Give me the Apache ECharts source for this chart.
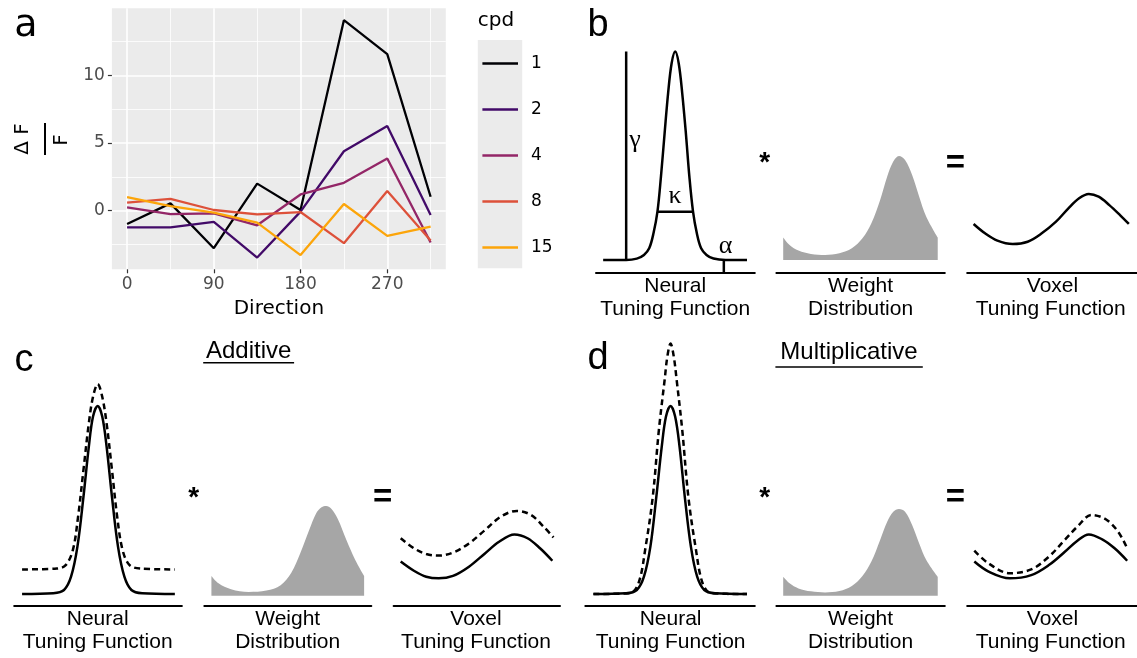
<!DOCTYPE html>
<html>
<head>
<meta charset="utf-8">
<script src="https://cdn.jsdelivr.net/npm/echarts@6.0.0/dist/echarts.min.js"></script>
<style>
html, body { margin: 0; padding: 0; background: #fff; }
#main { width: 1137px; height: 658px; }
</style>
</head>
<body>
<div id="main"></div>
<script>
// panel a: dF/F by direction for each spatial frequency
var directions = [0, 45, 90, 135, 180, 225, 270, 315];
var cpd1 = [-0.98, 0.54, -2.77, 2.0, 0.05, 14.07, 11.57, 1.03];
var cpd2 = [-1.23, -1.23, -0.83, -3.46, -0.07, 4.39, 6.25, -0.32];
var cpd4 = [0.25, -0.25, -0.2, -1.08, 1.2, 2.06, 3.85, -2.35];
var cpd8 = [0.59, 0.88, 0.05, -0.27, -0.1, -2.4, 1.45, -2.2];
var cpd15 = [1.0, 0.34, -0.15, -0.88, -3.28, 0.49, -1.86, -1.18];
var cpdNames = ['1', '2', '4', '8', '15'];
var cpdColors = ['#000004', '#420a68', '#932667', '#dd513a', '#fca50a'];
var xMajor = [0, 90, 180, 270];
var xMinor = [45, 135, 225, 315];
var yMajor = [0, 5, 10];
var yMinor = [-2.5, 2.5, 7.5, 12.5];

// schematics: [direction %, response]
var bNeural = [[4.5, 5.6], [19, 5.6], [25.7, 6.2], [30.2, 7.8], [33.5, 10.7], [36.2, 17.3], [38.7, 26.8], [40.9, 42.2], [43.2, 61.2], [45.4, 78.8], [47.6, 91.9], [49.9, 97.1], [52.1, 91.9], [54.3, 78.8], [56.6, 61.2], [58.8, 42.2], [61.1, 26.8], [63.5, 17.3], [66.2, 10.7], [69.6, 7.8], [74, 6.2], [81.6, 5.6], [95.1, 5.6]];
var bGamma = [[19, 5.6], [19, 97.1]];
var bKappa = [[38.7, 26.8], [61.1, 26.8]];
var bAlpha = [[80.5, 0], [80.5, 5.6]];
var bWeight = [[4.04, 15.5], [7.83, 12.2], [13.1, 9.7], [20.5, 8.2], [28.9, 7.8], [37.4, 8.5], [44.8, 10.7], [51.1, 15.1], [56.4, 21.7], [61.6, 31.9], [65.8, 42.2], [69.4, 48.8], [72.8, 51.3], [76.4, 49.5], [80.6, 42.9], [84.8, 33.4], [89, 24.6], [95.8, 15.5]];
var bWeightBase = 5.58;
var bVoxel = [[3.77, 21.4], [10.5, 17.3], [17.8, 14.1], [26.8, 12.6], [35.6, 13.6], [43.9, 17.3], [52.3, 22.4], [59.6, 28.3], [65.9, 32.7], [71.6, 34.6], [77.4, 33.4], [83.7, 29.7], [90, 25.3], [95.2, 21.4]];

var cNeural = [[4.7, 4.4], [23.3, 4.7], [29.7, 5.9], [33.9, 10.8], [37.7, 21.9], [41.3, 40.3], [44.5, 58.8], [47, 69.9], [49.8, 73.8], [52.5, 69.9], [55.1, 58.8], [58.3, 40.3], [61.9, 21.9], [65.7, 10.8], [69.9, 5.9], [76.3, 4.7], [95.8, 4.4]];
var cNeuralAdd = [[4.7, 13.5], [25.4, 13.8], [30.7, 15.1], [35, 20.7], [38.1, 33], [41.3, 50.2], [44.5, 67.4], [47, 77.2], [49.8, 81.9], [52.5, 77.2], [55.1, 67.4], [58.3, 50.2], [61.4, 33], [64.6, 20.7], [68.8, 15.1], [75.2, 13.8], [95.8, 13.5]];
var cWeight = [[4.26, 11.1], [8.5, 8.4], [16, 6.2], [26.6, 5.2], [37.2, 5.7], [45.7, 7.7], [52.1, 12.3], [57.4, 19.4], [62.8, 28], [67, 34.2], [70.2, 36.4], [73, 36.9], [75.9, 36], [79.8, 32.3], [85.1, 24.4], [90.4, 17], [95.7, 11.1]];
var cWeightBase = 3.81;
var cVoxel = [[4.27, 16.4], [12.2, 13], [19.6, 10.8], [27.1, 10.2], [35.7, 11.1], [45.3, 14.5], [54.9, 19.4], [63.4, 23.7], [72.6, 26.4], [80.5, 25], [88, 21.3], [95.4, 16.7]];
var cVoxelAdd = [[4.27, 25], [12.2, 21.3], [19.6, 19.2], [27.1, 18.6], [35.7, 19.7], [45.3, 23.1], [54.9, 28], [64.5, 33], [74.1, 35.1], [82.6, 33.6], [90.1, 29.3], [96.1, 25.3]];

var dNeural = [[4.8, 4.4], [24.1, 4.7], [30.4, 5.9], [34.6, 10.8], [38.4, 21.9], [41.9, 40.3], [45.1, 58.8], [47.6, 69.9], [50.3, 73.8], [53, 69.9], [55.6, 58.8], [58.7, 40.3], [62.3, 21.9], [66, 10.8], [70.2, 5.9], [76.5, 4.7], [95.4, 4.4]];
var dNeuralMul = [[4.8, 4.4], [26.2, 4.7], [31.4, 8.4], [35.6, 21.9], [39.8, 40.3], [43.4, 64.9], [46.8, 83.4], [48.4, 92], [50.3, 96.9], [52.2, 92], [53.9, 83.4], [57.2, 64.9], [60.8, 40.3], [65, 21.9], [69.2, 8.4], [74.4, 4.7], [95.4, 4.4]];
var dWeight = [[4.04, 10.8], [7.83, 8.4], [13.1, 6.5], [20.5, 5.4], [28.9, 5.0], [37.4, 5.5], [44.8, 7.4], [51.1, 11.1], [56.4, 16.4], [61.6, 24.4], [65.8, 31.1], [69.4, 34.8], [72.8, 35.8], [76.4, 34.8], [80.6, 29.9], [84.8, 23.1], [89, 17], [95.8, 10.8]];
var dWeightBase = 3.81;
var dVoxel = [[4.19, 16.4], [12.6, 12.7], [25.1, 10.2], [37.7, 11.4], [48.1, 15.1], [57.5, 20], [64.9, 24.1], [71.6, 26.4], [79.5, 24.6], [86.8, 21.3], [94.2, 16.7]];
var dVoxelMul = [[4.19, 20.4], [12.6, 15.7], [25.1, 12.1], [37.7, 13.5], [48.1, 18.2], [57.5, 24.4], [64.9, 29.3], [73.2, 33.6], [81.6, 32], [88.9, 27.4], [94.2, 21.3]];

var chart = echarts.init(document.getElementById('main'));
var sans = 'Liberation Sans';
var gg = 'DejaVu Sans';

var grids = [{ left: 111.9, top: 8.3, width: 333.9, height: 261, show: true, backgroundColor: '#ebebeb', borderWidth: 0 }];
var xAxes = [
  { gridIndex: 0, type: 'value', min: -15.75, max: 330.75, position: 'bottom',
    axisLine: { show: false, onZero: false },
    axisTick: { show: true, length: 4, customValues: xMajor, lineStyle: { color: '#333', width: 1.2 } },
    axisLabel: { customValues: xMajor, color: '#4d4d4d', fontSize: 17, fontFamily: gg, margin: 7 },
    splitLine: { show: true, lineStyle: { color: '#fff', width: 1.6 } }, z: 2 },
  { gridIndex: 0, type: 'value', min: -15.75, max: 330.75, position: 'bottom',
    axisLine: { show: false, onZero: false }, axisTick: { show: false, customValues: xMinor },
    axisLabel: { show: false }, splitLine: { show: true, lineStyle: { color: '#fff', width: 0.8 } }, z: 1 }
];
var yAxes = [
  { gridIndex: 0, type: 'value', min: -4.33, max: 14.95, position: 'left',
    axisLine: { show: false, onZero: false },
    axisTick: { show: true, length: 4, customValues: yMajor, lineStyle: { color: '#333', width: 1.2 } },
    axisLabel: { customValues: yMajor, color: '#4d4d4d', fontSize: 17, fontFamily: gg, margin: 7 },
    splitLine: { show: true, lineStyle: { color: '#fff', width: 1.6 } }, z: 2 },
  { gridIndex: 0, type: 'value', min: -4.33, max: 14.95, position: 'left',
    axisLine: { show: false, onZero: false }, axisTick: { show: false, customValues: yMinor },
    axisLabel: { show: false }, splitLine: { show: true, lineStyle: { color: '#fff', width: 0.8 } }, z: 1 }
];

var series = [];
var lines = [cpd1, cpd2, cpd4, cpd8, cpd15];
lines.forEach(function (vals, i) {
  series.push({
    name: cpdNames[i], type: 'line', xAxisIndex: 0, yAxisIndex: 0, symbol: 'none',
    data: directions.map(function (d, j) { return [d, vals[j]]; }),
    lineStyle: { color: cpdColors[i], width: 2.3 }, itemStyle: { color: cpdColors[i] }, z: 3
  });
});

// one small grid per schematic, axis line along the bottom
function mini(left, top, width, height) {
  grids.push({ left: left, top: top, width: width, height: height });
  var g = grids.length - 1;
  xAxes.push({ gridIndex: g, type: 'value', min: 0, max: 100,
    axisLine: { show: true, onZero: false, lineStyle: { color: '#000', width: 2 } },
    axisTick: { show: false }, axisLabel: { show: false }, splitLine: { show: false } });
  yAxes.push({ gridIndex: g, type: 'value', min: 0, max: 100, show: false });
  return xAxes.length - 1;
}
function curve(ax, data, dashed, smooth) {
  series.push({ type: 'line', xAxisIndex: ax, yAxisIndex: ax, data: data, symbol: 'none',
    smooth: smooth ? 0.35 : false, silent: true,
    lineStyle: { color: '#000', width: 2.5, type: dashed ? [6, 4] : 'solid' }, z: 3 });
}
function weight(ax, data, base) {
  series.push({ type: 'line', xAxisIndex: ax, yAxisIndex: ax, data: data, symbol: 'none',
    smooth: 0.35, silent: true, lineStyle: { width: 0 },
    areaStyle: { color: '#a6a6a6', opacity: 1, origin: base }, z: 2 });
}

var bN = mini(596, 45, 158.8, 227.7);
var bW = mini(776.4, 45, 168.4, 227.7);
var bV = mini(967.2, 45, 169.8, 227.7);
var cN = mini(14.2, 335, 167.7, 271);
var cW = mini(204.3, 335, 167.0, 271);
var cV = mini(393.6, 335, 166.4, 271);
var dN = mini(585.3, 335, 169.5, 271);
var dW = mini(776.4, 335, 168.4, 271);
var dV = mini(967.2, 335, 169.8, 271);

curve(bN, bNeural, false, true);
curve(bN, bGamma, false, false);
curve(bN, bKappa, false, false);
curve(bN, bAlpha, false, false);
weight(bW, bWeight, bWeightBase);
curve(bV, bVoxel, false, true);

curve(cN, cNeuralAdd, true, true);
curve(cN, cNeural, false, true);
weight(cW, cWeight, cWeightBase);
curve(cV, cVoxelAdd, true, true);
curve(cV, cVoxel, false, true);

curve(dN, dNeuralMul, true, true);
curve(dN, dNeural, false, true);
weight(dW, dWeight, dWeightBase);
curve(dV, dVoxelMul, true, true);
curve(dV, dVoxel, false, true);

function txt(x, y, s, size, font, extra) {
  return Object.assign({ type: 'text', x: x, y: y, silent: true, z: 10,
    style: { text: s, fontSize: size, fontFamily: font || sans, fill: '#000', align: 'center', verticalAlign: 'middle' } }, extra || {});
}
function bold(el) { el.style.fontWeight = 'bold'; return el; }
function rule(x1, y1, x2, y2, w) {
  return { type: 'line', silent: true, z: 10, shape: { x1: x1, y1: y1, x2: x2, y2: y2 }, style: { stroke: '#000', lineWidth: w } };
}

var cpdTitle = txt(477.8, 20.7, 'cpd', 20, gg);
cpdTitle.style.align = 'left';

var graphics = [
  { type: 'rect', silent: true, z: 0, shape: { x: 477.8, y: 40, width: 44.4, height: 228.3 }, style: { fill: '#ebebeb' } },
  txt(26, 26, 'a', 38, gg),
  txt(598, 26, 'b', 38, sans),
  txt(24, 361, 'c', 38, sans),
  txt(598, 359, 'd', 38, sans),
  txt(278.9, 309, 'Direction', 20, gg),
  cpdTitle,
  txt(22.5, 139, 'Δ F', 20, gg, { rotation: Math.PI / 2 }),
  rule(45, 123, 45, 155, 2),
  txt(62, 140, 'F', 20, gg, { rotation: Math.PI / 2 }),
  // greek parameter labels
  txt(635, 140, 'γ', 26, 'Liberation Serif'),
  txt(675, 196, 'κ', 26, 'Liberation Serif'),
  txt(725.6, 246, 'α', 26, 'Liberation Serif'),
  // operators
  bold(txt(764.7, 163, '*', 28)), bold(txt(955.5, 164, '=', 33)),
  bold(txt(193.6, 498, '*', 28)), bold(txt(382.6, 498, '=', 33)),
  bold(txt(764.7, 498, '*', 28)), bold(txt(955.5, 497.5, '=', 33)),
  // headings
  txt(248.7, 351.7, 'Additive', 24), rule(203.2, 362.7, 294.1, 362.7, 1.5),
  txt(849, 352.7, 'Multiplicative', 24), rule(775.4, 367, 922.8, 367, 1.5)
];

function captions(y1, y2, xs) {
  graphics.push(txt(xs[0], y1, 'Neural', 21), txt(xs[0], y2, 'Tuning Function', 21));
  graphics.push(txt(xs[1], y1, 'Weight', 21), txt(xs[1], y2, 'Distribution', 21));
  graphics.push(txt(xs[2], y1, 'Voxel', 21), txt(xs[3], y2, 'Tuning Function', 21));
}
captions(286.7, 309, [675.2, 860.6, 1052.5, 1050.7]);
captions(619.3, 642.7, [97.7, 287.7, 476, 476]);
captions(619.3, 642.7, [670.6, 860.6, 1052.5, 1050.7]);

chart.setOption({
  animation: false,
  backgroundColor: '#fff',
  grid: grids,
  xAxis: xAxes,
  yAxis: yAxes,
  legend: {
    data: cpdNames, orient: 'vertical', left: 482.4, top: 53.5, padding: 0,
    icon: 'rect', itemWidth: 35.6, itemHeight: 2.4, itemGap: 26, selectedMode: false,
    textStyle: { fontSize: 17, lineHeight: 20, fontFamily: gg, color: '#000', padding: [0, 0, 0, 8] }
  },
  series: series,
  graphic: graphics
});
</script>
</body>
</html>
